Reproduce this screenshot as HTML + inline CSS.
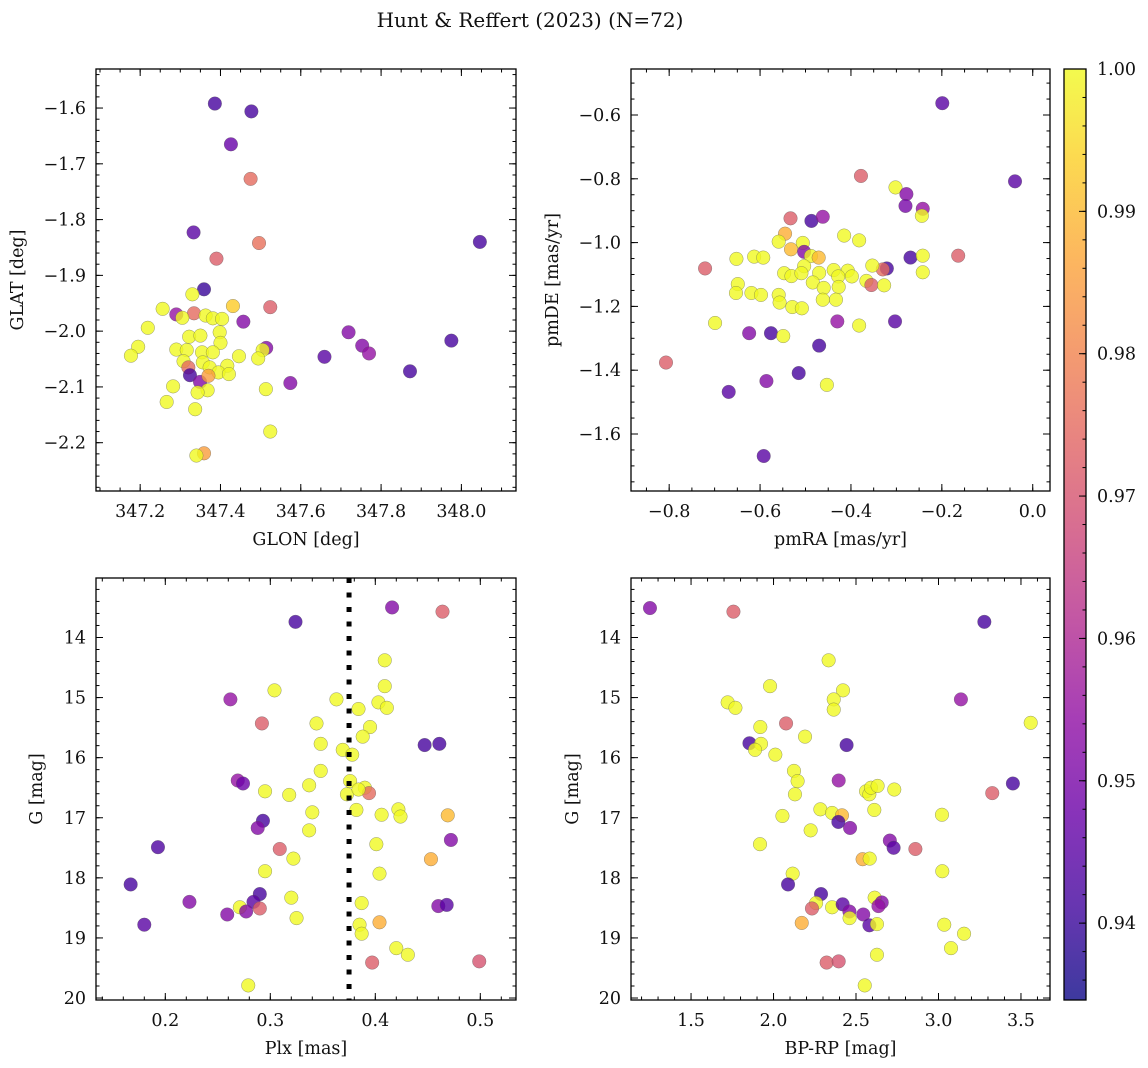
<!DOCTYPE html>
<html><head><meta charset="utf-8"><style>
html,body{margin:0;padding:0;background:#fff;}
svg{display:block;font-family:"DejaVu Serif","Liberation Serif",serif;}
</style></head><body>
<svg id="fig" width="1148" height="1068" viewBox="0 0 1148 1068" xmlns="http://www.w3.org/2000/svg">
<text x="530" y="27" font-size="20" text-anchor="middle" fill="#111">Hunt &amp; Reffert (2023) (N=72)</text>
</svg>
<script>
// ---- Data: panel 1 (GLON vs GLAT) ----
const tlGlon=[347.386,347.477,347.426,347.475,347.333,347.496,348.046,347.390,347.359,347.330,347.431,347.524,347.256,347.290,347.334,347.305,347.363,347.381,347.404,347.457,347.219,347.398,347.322,347.350,347.719,347.400,347.195,347.290,347.316,347.354,347.381,347.514,347.505,347.753,347.770,347.975,347.177,347.659,347.446,347.494,347.308,347.356,347.320,347.373,347.417,347.395,347.421,347.324,347.349,347.370,347.872,347.574,347.282,347.368,347.343,347.513,347.266,347.337,347.524,347.359,347.340];
const tlGlat=[-1.592,-1.606,-1.665,-1.727,-1.823,-1.842,-1.840,-1.870,-1.925,-1.934,-1.955,-1.957,-1.960,-1.970,-1.968,-1.976,-1.972,-1.977,-1.978,-1.983,-1.994,-2.002,-2.010,-2.008,-2.002,-2.021,-2.028,-2.033,-2.034,-2.038,-2.038,-2.030,-2.034,-2.026,-2.040,-2.017,-2.044,-2.046,-2.045,-2.049,-2.054,-2.056,-2.065,-2.065,-2.062,-2.074,-2.077,-2.079,-2.091,-2.080,-2.072,-2.093,-2.099,-2.106,-2.110,-2.104,-2.127,-2.140,-2.180,-2.219,-2.223];
const tlProb=[0.942,0.942,0.947,0.975,0.945,0.976,0.942,0.972,0.940,1,0.993,0.972,1,0.955,0.975,1,1,1,1,0.952,1,1,1,1,0.952,1,1,1,1,1,1,0.952,1,0.952,0.955,0.942,1,0.945,1,1,1,1,0.975,1,1,1,1,0.942,0.952,0.985,0.942,0.952,1,1,1,1,1,1,1,0.985,1];
// ---- Data: panel 2 (pmRA vs pmDE) ----
const trPmra=[-0.199,-0.039,-0.378,-0.302,-0.278,-0.280,-0.242,-0.244,-0.533,-0.487,-0.462,-0.545,-0.415,-0.382,-0.559,-0.506,-0.532,-0.503,-0.488,-0.471,-0.652,-0.613,-0.593,-0.721,-0.269,-0.242,-0.164,-0.321,-0.330,-0.353,-0.503,-0.547,-0.531,-0.509,-0.470,-0.438,-0.407,-0.428,-0.398,-0.242,-0.366,-0.355,-0.327,-0.484,-0.460,-0.427,-0.649,-0.653,-0.619,-0.598,-0.559,-0.557,-0.462,-0.433,-0.529,-0.508,-0.699,-0.624,-0.576,-0.549,-0.430,-0.382,-0.303,-0.470,-0.807,-0.515,-0.586,-0.453,-0.669,-0.592];
const trPmde=[-0.563,-0.808,-0.791,-0.827,-0.848,-0.885,-0.894,-0.916,-0.924,-0.932,-0.919,-0.972,-0.978,-0.993,-0.997,-1.001,-1.021,-1.029,-1.042,-1.047,-1.051,-1.044,-1.047,-1.081,-1.047,-1.041,-1.041,-1.081,-1.084,-1.072,-1.074,-1.096,-1.105,-1.096,-1.095,-1.086,-1.088,-1.106,-1.106,-1.093,-1.120,-1.133,-1.134,-1.125,-1.142,-1.139,-1.130,-1.158,-1.158,-1.164,-1.164,-1.188,-1.179,-1.179,-1.202,-1.206,-1.252,-1.284,-1.284,-1.293,-1.247,-1.260,-1.247,-1.323,-1.376,-1.409,-1.434,-1.446,-1.468,-1.669];
const trProb=[0.945,0.945,0.972,1,0.952,0.950,0.955,1,0.972,0.942,0.955,0.988,1,1,1,1,0.990,0.952,1,0.990,1,1,1,0.972,0.942,1,0.972,0.942,0.975,1,1,1,1,1,1,1,1,1,1,1,1,0.972,1,1,1,1,1,1,1,1,1,1,1,1,1,1,1,0.952,0.942,1,0.955,1,0.945,0.942,0.972,0.942,0.952,1,0.945,0.945];
// ---- Data: panel 3 (Plx vs G) ----
const blPlx=[0.416,0.464,0.324,0.409,0.409,0.304,0.262,0.363,0.403,0.411,0.384,0.292,0.344,0.395,0.388,0.348,0.447,0.461,0.369,0.378,0.348,0.376,0.269,0.274,0.295,0.318,0.337,0.390,0.394,0.373,0.384,0.340,0.382,0.406,0.422,0.424,0.469,0.293,0.288,0.472,0.193,0.309,0.337,0.401,0.322,0.453,0.295,0.404,0.167,0.290,0.320,0.223,0.284,0.271,0.290,0.259,0.277,0.460,0.468,0.387,0.325,0.385,0.404,0.180,0.387,0.420,0.431,0.397,0.499,0.279];
const blG=[13.50,13.57,13.74,14.38,14.81,14.88,15.03,15.03,15.08,15.17,15.19,15.43,15.43,15.49,15.65,15.77,15.79,15.77,15.87,15.95,16.22,16.39,16.38,16.43,16.56,16.62,16.46,16.50,16.59,16.61,16.53,16.91,16.87,16.95,16.86,16.98,16.96,17.05,17.17,17.37,17.49,17.52,17.21,17.44,17.68,17.69,17.89,17.93,18.11,18.27,18.33,18.40,18.40,18.49,18.51,18.61,18.56,18.47,18.45,18.42,18.67,18.78,18.74,18.78,18.93,19.17,19.28,19.41,19.39,19.79];
const blProb=[0.952,0.972,0.942,1,1,1,0.955,1,1,1,1,0.972,1,1,1,1,0.942,0.942,1,1,1,1,0.955,0.948,1,1,1,1,0.975,1,1,1,1,1,1,1,0.990,0.942,0.952,0.952,0.943,0.972,1,1,1,0.988,1,1,0.942,0.942,1,0.952,0.945,1,0.972,0.952,0.952,0.952,0.945,1,1,1,0.988,0.945,1,1,1,0.972,0.970,1];
const plxCut=[0.375];
// ---- Data: panel 4 (BP-RP vs G) ----
const brBprp=[1.251,1.757,3.278,2.334,1.979,2.421,3.136,2.365,1.722,1.769,2.365,2.076,3.559,1.920,2.191,1.854,1.924,1.888,2.443,2.011,2.124,2.146,2.395,3.451,2.130,2.561,2.581,2.591,2.631,2.732,3.326,2.611,2.284,2.355,2.415,2.054,3.021,2.393,2.464,2.225,2.705,2.728,2.860,1.918,2.540,2.583,2.116,3.023,2.088,2.288,2.613,2.656,2.636,2.258,2.233,2.355,2.419,2.460,2.544,2.461,2.581,2.627,2.171,3.035,3.155,3.076,2.627,2.322,2.395,2.553];
const brG=[13.51,13.57,13.74,14.38,14.81,14.88,15.03,15.03,15.08,15.17,15.20,15.43,15.42,15.49,15.65,15.76,15.77,15.87,15.79,15.95,16.22,16.39,16.38,16.43,16.61,16.56,16.61,16.50,16.47,16.53,16.59,16.87,16.86,16.92,16.96,16.97,16.95,17.07,17.17,17.21,17.38,17.50,17.52,17.44,17.69,17.68,17.93,17.89,18.11,18.27,18.33,18.41,18.47,18.42,18.51,18.49,18.44,18.56,18.61,18.67,18.79,18.77,18.75,18.78,18.93,19.17,19.28,19.41,19.39,19.79];
const brProb=[0.952,0.972,0.942,1,1,1,0.955,1,1,1,1,0.972,1,1,1,0.942,1,1,0.942,1,1,1,0.955,0.942,1,1,1,1,1,1,0.972,1,1,1,0.990,1,1,0.942,0.952,1,0.952,0.945,0.972,1,0.988,1,1,1,0.942,0.942,1,0.952,0.955,1,0.972,1,0.945,0.952,0.952,1,0.945,1,0.988,1,1,1,1,0.972,0.970,1];
// ---- Colorbar ticks ----
const cbTicks=[0.94,0.95,0.96,0.97,0.98,0.99,1.00];
const cMin=0.9346, cMax=1.0;

const NS="http://www.w3.org/2000/svg";
const svg=document.getElementById('fig');
function mk(tag,attrs,parent){const e=document.createElementNS(NS,tag);for(const k in attrs)e.setAttribute(k,attrs[k]);(parent||svg).appendChild(e);return e;}
const stops=[[13,8,135],[65,4,157],[106,0,168],[143,13,164],[177,42,144],[204,71,120],[225,100,98],[242,132,75],[252,166,54],[252,206,37],[240,249,33]];
function plasma(t){t=Math.max(0,Math.min(1,t));const f=t*10,i=Math.min(9,Math.floor(f)),r=f-i;const a=stops[i],b=stops[i+1];return 'rgb('+[0,1,2].map(k=>Math.round(a[k]+(b[k]-a[k])*r)).join(',')+')';}
function cnorm(p){return (p-cMin)/(cMax-cMin);}
function fmt(v,d){const s=Math.abs(v).toFixed(d);return (v<-1e-9?'\u2212':'')+s;}

function panel(c){
  const g=mk('g',{});
  
  
  const sx=v=>c.px0+(v-c.xmin)/(c.xmax-c.xmin)*(c.px1-c.px0);
  const sy=v=>c.py0+(v-c.ytop)/(c.ybot-c.ytop)*(c.py1-c.py0);
  for(let i=0;i<c.xs.length;i++){
    const pt=mk('circle',{cx:sx(c.xs[i]),cy:sy(c.ys[i]),r:6.8,fill:plasma(cnorm(c.ps[i])),'fill-opacity':0.8,stroke:'#555','stroke-width':0.5,'stroke-opacity':0.6},g);
    
    
  }
  if(c.vline!==undefined){
    const l=mk('line',{x1:sx(c.vline),x2:sx(c.vline),y1:c.py0,y2:c.py1,stroke:'#000','stroke-width':5,'stroke-dasharray':'5,9.5'},g);
    
    
  }
  const tg=mk('g',{stroke:'#000','stroke-width':1},g);
  const eps=1e-9;
  function rng(a,b,s){const out=[];const st=Math.ceil((a-eps)/s);for(let k=st;k*s<=b+eps;k++)out.push(k*s);return out;}
  const xlo=Math.min(c.xmin,c.xmax),xhi=Math.max(c.xmin,c.xmax),ylo=Math.min(c.ytop,c.ybot),yhi=Math.max(c.ytop,c.ybot);
  rng(xlo,xhi,c.xminor).forEach(v=>{const x=sx(v);mk('line',{x1:x,x2:x,y1:c.py1,y2:c.py1-3.5},tg);mk('line',{x1:x,x2:x,y1:c.py0,y2:c.py0+3.5},tg);});
  rng(ylo,yhi,c.yminor).forEach(v=>{const y=sy(v);mk('line',{x1:c.px0,x2:c.px0+3.5,y1:y,y2:y},tg);mk('line',{x1:c.px1,x2:c.px1-3.5,y1:y,y2:y},tg);});
  rng(xlo,xhi,c.xmajor).forEach(v=>{const x=sx(v);mk('line',{x1:x,x2:x,y1:c.py1,y2:c.py1-7},tg);mk('line',{x1:x,x2:x,y1:c.py0,y2:c.py0+7},tg);
    const t=mk('text',{x:x,y:c.py1+26,'font-size':17.5,'text-anchor':'middle',fill:'#111'},g);t.textContent=fmt(v,c.xdec);
    });
  rng(ylo,yhi,c.ymajor).forEach(v=>{const y=sy(v);mk('line',{x1:c.px0,x2:c.px0+7,y1:y,y2:y},tg);mk('line',{x1:c.px1,x2:c.px1-7,y1:y,y2:y},tg);
    const t=mk('text',{x:c.px0-10,y:y+6,'font-size':17.5,'text-anchor':'end',fill:'#111'},g);t.textContent=fmt(v,c.ydec);
    });
  const fr=mk('rect',{x:c.px0,y:c.py0,width:c.px1-c.px0,height:c.py1-c.py0,fill:'none',stroke:'#000','stroke-width':1.3},g);
  
  const xl=mk('text',{x:(c.px0+c.px1)/2,y:c.py1+54,'font-size':17.5,'text-anchor':'middle',fill:'#111'},g);xl.textContent=c.xlabel;
  
  const yc=(c.py0+c.py1)/2;
  const yl=mk('text',{x:c.ylx,y:yc,'font-size':17.5,'text-anchor':'middle',fill:'#111',transform:'rotate(-90 '+c.ylx+' '+yc+')'},g);yl.textContent=c.ylabel;
  
}

panel({name:'glon-glat-panel',xs:tlGlon,ys:tlGlat,ps:tlProb,px0:96,px1:516,py0:69,py1:491,xmin:347.090,xmax:348.136,ytop:-1.530,ybot:-2.2866,xmajor:0.2,xminor:0.05,ymajor:0.1,yminor:0.02,xdec:1,ydec:1,xlabel:'GLON [deg]',ylabel:'GLAT [deg]',ylx:23});
panel({name:'proper-motion-panel',xs:trPmra,ys:trPmde,ps:trProb,px0:631,px1:1050,py0:69,py1:491,xmin:-0.884,xmax:0.038,ytop:-0.4558,ybot:-1.7787,xmajor:0.2,xminor:0.05,ymajor:0.2,yminor:0.05,xdec:1,ydec:1,xlabel:'pmRA [mas/yr]',ylabel:'pmDE [mas/yr]',ylx:558});
panel({name:'parallax-magnitude-panel',xs:blPlx,ys:blG,ps:blProb,vline:plxCut[0],px0:96,px1:516,py0:578,py1:1000,xmin:0.134,xmax:0.534,ytop:13.01,ybot:20.033,xmajor:0.1,xminor:0.02,ymajor:1,yminor:0.2,xdec:1,ydec:0,xlabel:'Plx [mas]',ylabel:'G [mag]',ylx:42});
panel({name:'color-magnitude-panel',xs:brBprp,ys:brG,ps:brProb,px0:631,px1:1050,py0:578,py1:1000,xmin:1.136,xmax:3.676,ytop:13.01,ybot:20.033,xmajor:0.5,xminor:0.1,ymajor:1,yminor:0.2,xdec:1,ydec:0,xlabel:'BP-RP [mag]',ylabel:'G [mag]',ylx:578});

const cb=mk('g',{});


const defs=mk('defs',{});
const lg=mk('linearGradient',{id:'cbg',x1:0,y1:1,x2:0,y2:0},defs);
for(let i=0;i<=20;i++){mk('stop',{offset:i/20,'stop-color':plasma(i/20),'stop-opacity':0.8},lg);}
const cbx0=1064,cbx1=1086,cby0=69,cby1=1000;
const cy=v=>cby1-(v-cMin)/(cMax-cMin)*(cby1-cby0);
mk('rect',{x:cbx0,y:cby0,width:cbx1-cbx0,height:cby1-cby0,fill:'url(#cbg)'},cb);
for(let k=0;k<=33;k++){const v=0.934+k*0.002;if(v<cMin-1e-9||v>cMax+1e-9)continue;const y=cy(v);mk('line',{x1:cbx1,x2:cbx1-3.5,y1:y,y2:y,stroke:'#000','stroke-width':1},cb);}
cbTicks.forEach(v=>{const y=cy(v);mk('line',{x1:cbx1,x2:cbx1-7,y1:y,y2:y,stroke:'#000','stroke-width':1},cb);
  const t=mk('text',{x:cbx1+11,y:y+6,'font-size':17.5,fill:'#111'},cb);t.textContent=v.toFixed(2);
  });
mk('rect',{x:cbx0,y:cby0,width:cbx1-cbx0,height:cby1-cby0,fill:'none',stroke:'#000','stroke-width':1.3},cb);
</script>
</body></html>
